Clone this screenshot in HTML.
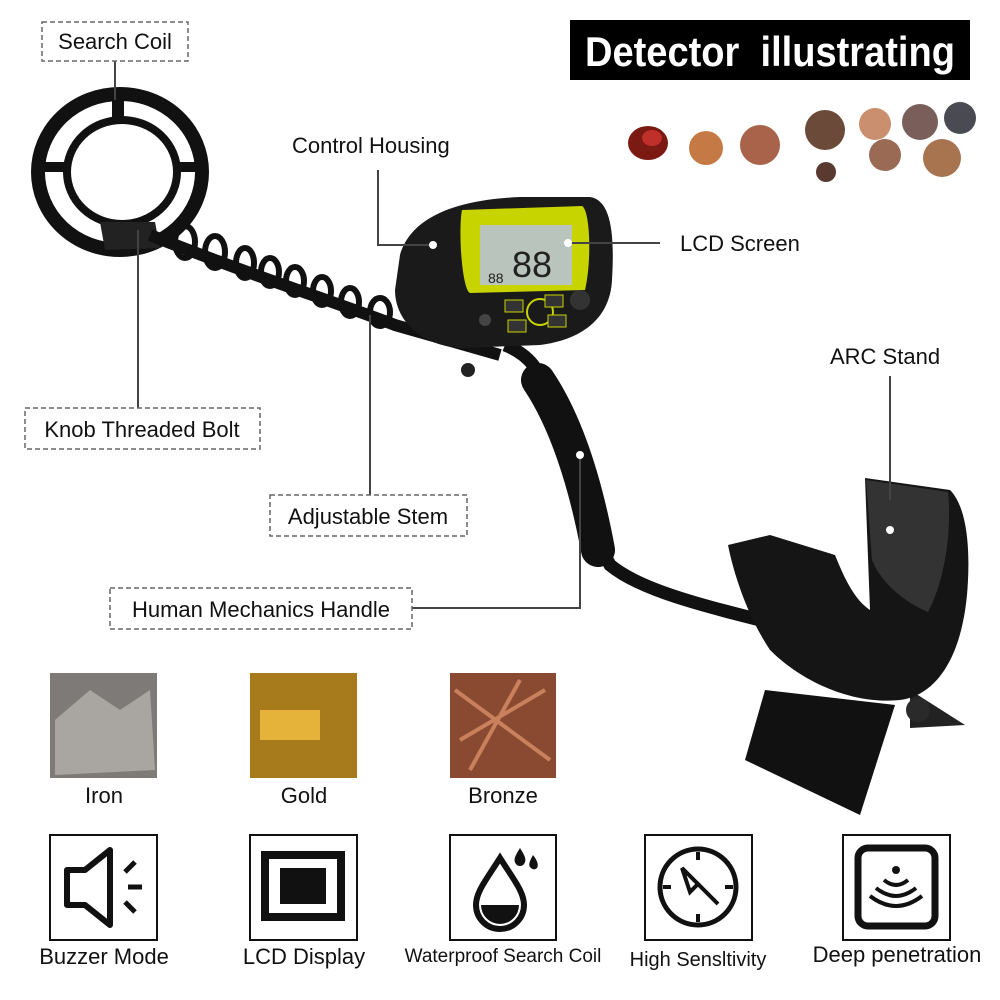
<!DOCTYPE html>
<html><head><meta charset="utf-8"><style>
body{margin:0;background:#fff}
svg{display:block}
text{font-family:"Liberation Sans",sans-serif;fill:#111}
</style></head><body>
<svg width="1000" height="1000" viewBox="0 0 1000 1000" xmlns="http://www.w3.org/2000/svg">
<rect width="1000" height="1000" fill="#fff"/>
<rect x="570" y="20" width="400" height="60" fill="#000"/>
<text x="585" y="66" textLength="370" lengthAdjust="spacingAndGlyphs" font-size="42" font-weight="bold" style="fill:#fff" xml:space="preserve">Detector  illustrating</text>
<g>
<ellipse cx="648" cy="143" rx="20" ry="17" fill="#7a1a12"/><ellipse cx="652" cy="138" rx="10" ry="8" fill="#c0302a"/>
<circle cx="706" cy="148" r="17" fill="#c57a45"/>
<circle cx="760" cy="145" r="20" fill="#a8634a"/>
<circle cx="825" cy="130" r="20" fill="#6b4a3a"/>
<circle cx="875" cy="124" r="16" fill="#c98f6e"/>
<circle cx="920" cy="122" r="18" fill="#7a5e5a"/>
<circle cx="960" cy="118" r="16" fill="#4a4a52"/>
<circle cx="885" cy="155" r="16" fill="#9a6a55"/>
<circle cx="942" cy="158" r="19" fill="#a8734f"/>
<circle cx="826" cy="172" r="10" fill="#5a3a30"/>
</g>
<ellipse cx="120" cy="172" rx="82" ry="78" fill="none" stroke="#111" stroke-width="14"/>
<ellipse cx="122" cy="172" rx="55" ry="52" fill="none" stroke="#111" stroke-width="8"/>
<rect x="112" y="95" width="12" height="28" fill="#111"/>
<rect x="38" y="162" width="30" height="10" fill="#111"/>
<rect x="175" y="162" width="30" height="10" fill="#111"/>
<path d="M100 222 L155 222 L160 248 L105 250 Z" fill="#222"/>
<path d="M150 235 C250 275 330 300 395 325 L500 355" stroke="#111" stroke-width="12" fill="none"/>
<g fill="none" stroke="#111" stroke-width="6">
<ellipse cx="185" cy="242" rx="10" ry="16"/><ellipse cx="215" cy="252" rx="10" ry="16"/>
<ellipse cx="245" cy="263" rx="9" ry="15"/><ellipse cx="270" cy="272" rx="9" ry="14"/>
<ellipse cx="295" cy="281" rx="9" ry="14"/><ellipse cx="322" cy="291" rx="9" ry="14"/>
<ellipse cx="350" cy="302" rx="9" ry="14"/><ellipse cx="380" cy="312" rx="10" ry="14"/>
</g>
<circle cx="468" cy="370" r="7" fill="#222"/>
<path d="M505 345 C530 355 540 370 550 400 C570 460 585 520 610 565 C640 590 700 605 780 625" stroke="#111" stroke-width="13" fill="none"/>
<path d="M538 380 C565 420 585 480 598 550" stroke="#111" stroke-width="34" fill="none" stroke-linecap="round"/>
<path d="M400 255 C410 220 450 200 520 197 L590 197 C610 200 615 230 612 280 C610 320 580 340 540 345 L460 348 C420 345 395 320 395 290 Z" fill="#1a1a1a"/>
<path d="M462 210 L582 206 C590 210 592 260 585 290 L470 293 C462 290 458 230 462 210 Z" fill="#c8d400"/>
<rect x="480" y="225" width="92" height="60" fill="#b9c4bc"/>
<text x="512" y="277" font-size="36" style="fill:#222">88</text>
<text x="488" y="283" font-size="14" style="fill:#222">88</text>
<circle cx="540" cy="312" r="13" fill="none" stroke="#c8d400" stroke-width="2"/>
<rect x="505" y="300" width="18" height="12" fill="#333" stroke="#c8d400"/>
<rect x="508" y="320" width="18" height="12" fill="#333" stroke="#c8d400"/>
<rect x="545" y="295" width="18" height="12" fill="#333" stroke="#c8d400"/>
<rect x="548" y="315" width="18" height="12" fill="#333" stroke="#c8d400"/>
<circle cx="580" cy="300" r="10" fill="#333"/>
<circle cx="485" cy="320" r="6" fill="#444"/>
<path d="M765 690 L895 705 L860 815 L745 760 Z" fill="#111"/>
<path d="M910 690 L965 725 L910 728 Z" fill="#222"/>
<path d="M728 545 L770 535 L835 555 C845 580 855 600 870 610 L865 478 L950 490 C965 505 970 540 968 580 C965 650 940 695 900 700 C850 705 800 680 770 650 C750 620 735 580 728 545 Z" fill="#151515"/>
<path d="M866 480 L948 492 C952 530 945 580 928 612 C900 600 880 580 872 560 Z" fill="#333"/>
<circle cx="918" cy="710" r="12" fill="#2a2a2a"/>
<g stroke="#444" stroke-width="2" fill="none">
<path d="M115 61 V100"/>
<path d="M138 230 V408"/>
<path d="M370 315 V495"/>
<path d="M412 608 H580 V455"/>
<path d="M378 170 V245 H430"/>
<path d="M570 243 H660"/>
<path d="M890 376 V500"/>
</g>
<g fill="#fff"><circle cx="580" cy="455" r="4"/><circle cx="890" cy="530" r="4"/><circle cx="433" cy="245" r="4"/><circle cx="568" cy="243" r="4"/></g>
<g fill="#fff" stroke="#666" stroke-width="1.5" stroke-dasharray="5,3">
<rect x="42" y="22" width="146" height="39"/>
<rect x="25" y="408" width="235" height="41"/>
<rect x="270" y="495" width="197" height="41"/>
<rect x="110" y="588" width="302" height="41"/>
</g>
<g font-size="22">
<text x="115" y="49" text-anchor="middle">Search Coil</text>
<text x="142" y="437" text-anchor="middle">Knob Threaded Bolt</text>
<text x="368" y="524" text-anchor="middle">Adjustable Stem</text>
<text x="261" y="617" text-anchor="middle">Human Mechanics Handle</text>
<text x="292" y="153">Control Housing</text>
<text x="680" y="251">LCD Screen</text>
<text x="830" y="364">ARC Stand</text>
</g>
<rect x="50" y="673" width="107" height="105" fill="#7d7a78"/>
<path d="M55 720 L90 690 L120 710 L150 690 L155 770 L55 775 Z" fill="#a9a6a2"/>
<rect x="250" y="673" width="107" height="105" fill="#a77a1c"/>
<rect x="260" y="710" width="60" height="30" fill="#e6b33a"/>
<rect x="450" y="673" width="106" height="105" fill="#8a4a32"/>
<path d="M455 690 L550 760 M460 740 L545 690 M470 770 L520 680" stroke="#c9805c" stroke-width="4"/>
<g font-size="22" text-anchor="middle">
<text x="104" y="803">Iron</text><text x="304" y="803">Gold</text><text x="503" y="803">Bronze</text>
</g>
<g fill="none" stroke="#111" stroke-width="2">
<rect x="50" y="835" width="107" height="105"/>
<rect x="250" y="835" width="107" height="105"/>
<rect x="450" y="835" width="106" height="105"/>
<rect x="645" y="835" width="107" height="105"/>
<rect x="843" y="835" width="107" height="105"/>
</g>
<path d="M67 870 H85 L110 850 V925 L85 905 H67 Z" fill="none" stroke="#111" stroke-width="6" stroke-linejoin="round"/>
<path d="M125 872 L135 862 M128 887 H142 M125 902 L135 912" stroke="#111" stroke-width="5"/>
<rect x="265" y="855" width="76" height="62" fill="none" stroke="#111" stroke-width="8"/>
<rect x="280" y="868" width="46" height="36" fill="#111"/>
<path d="M500 858 C486 880 476 892 476 905 A24 24 0 0 0 524 905 C524 892 514 880 500 858 Z" fill="none" stroke="#111" stroke-width="6"/>
<path d="M481 905 A19 19 0 0 0 519 905 Z" fill="#111"/>
<path d="M520 848 C515 856 513 860 516 864 A5 5 0 0 0 524 864 C527 860 525 856 520 848 Z M533 855 C529 862 528 866 531 868 A4 4 0 0 0 537 868 C539 865 537 860 533 855 Z" fill="#111"/>
<circle cx="698" cy="887" r="38" fill="none" stroke="#111" stroke-width="5"/>
<path d="M698 852 V860 M698 914 V922 M663 887 H671 M725 887 H733" stroke="#111" stroke-width="4"/>
<path d="M682 868 L718 904 L698 884 L690 892 Z" fill="none" stroke="#111" stroke-width="4"/>
<rect x="858" y="848" width="77" height="78" rx="10" fill="none" stroke="#111" stroke-width="7"/>
<circle cx="896" cy="870" r="4" fill="#111"/>
<path d="M884 880 Q896 890 908 880 M876 888 Q896 904 916 888 M870 896 Q896 916 922 896" fill="none" stroke="#111" stroke-width="4"/>
<g font-size="22" text-anchor="middle">
<text x="104" y="964">Buzzer Mode</text>
<text x="304" y="964">LCD Display</text>
<text x="503" y="962" font-size="19">Waterproof Search Coil</text>
<text x="698" y="966" font-size="20">High Sensltivity</text>
<text x="897" y="962">Deep penetration</text>
</g>
</svg>
</body></html>
